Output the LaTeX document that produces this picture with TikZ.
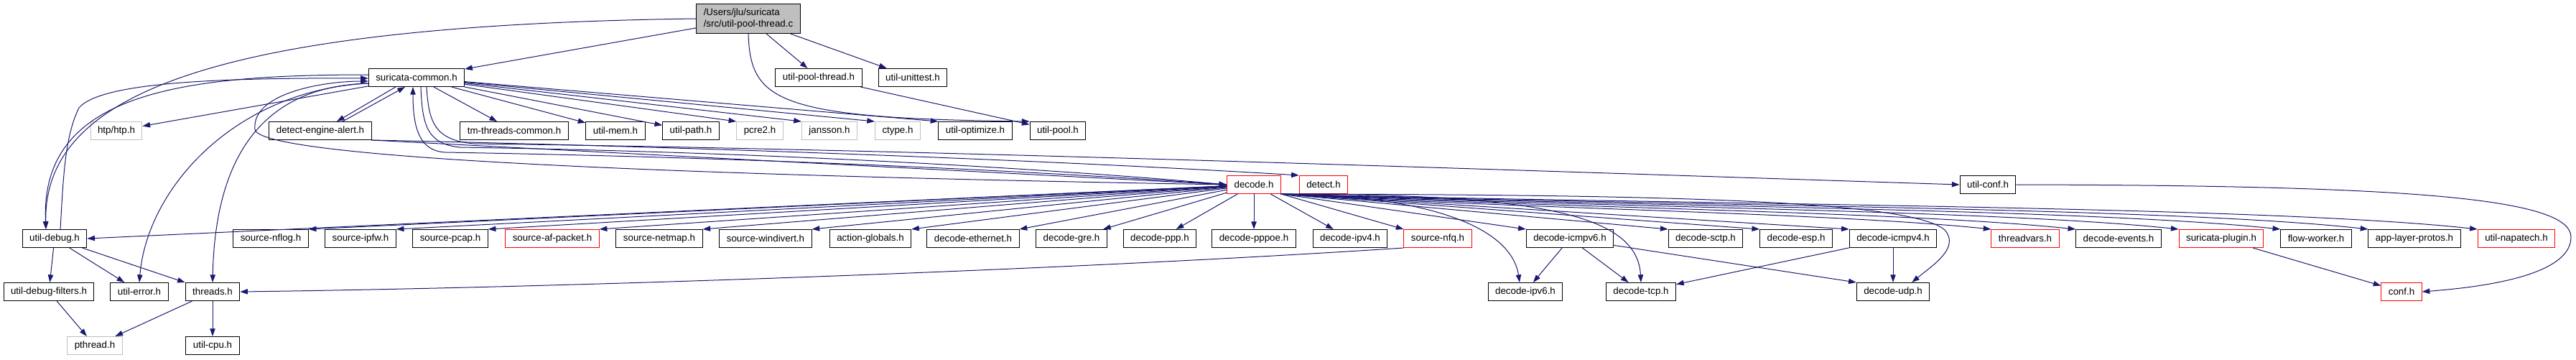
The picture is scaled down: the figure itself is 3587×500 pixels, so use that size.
\documentclass[tikz,border=0pt]{standalone}
\usepackage{fontspec}
\setmainfont{Liberation Sans}
\usetikzlibrary{arrows.meta,calc}
\definecolor{bleuEdge}{RGB}{25,25,112}
\definecolor{grisNode}{RGB}{191,191,191}
\definecolor{rougeNode}{RGB}{255,0,0}

\begin{document}
\begin{tikzpicture}[
		x=0.75pt, y=-0.75pt,
		hdr/.style={rectangle, draw=black, fill=white, line width=0.75pt,
			font=\fontsize{10}{12.5}\selectfont, inner xsep=7.5pt, inner ysep=0pt,
			minimum height=18.75pt},
		ext/.style={hdr, draw=grisNode},
		trunc/.style={hdr, draw=rougeNode},
		rootbox/.style={hdr, fill=grisNode, align=left, minimum height=30.75pt},
		inc/.style={->, >={Triangle[length=8pt, width=5.5pt]}, color=bleuEdge, line width=0.75pt}
		]
		\useasboundingbox (0,0) rectangle (3587,500);

		\node[rootbox] (root) at (1042,26) {/Users/jlu/suricata\\/src/util-pool-thread.c};

		\node[hdr] (suricom)  at (580,108)  {suricata-common.h};
		\node[hdr] (poolthr)  at (1140,108) {util-pool-thread.h};
		\node[hdr] (unittest) at (1271,108) {util-unittest.h};

		\node[ext] (htp)     at (162,182)  {htp/htp.h};
		\node[hdr] (dealert) at (446,182)  {detect-engine-alert.h};
		\node[hdr] (tmthr)   at (716,182)  {tm-threads-common.h};
		\node[hdr] (umem)    at (857,182)  {util-mem.h};
		\node[hdr] (upath)   at (962,182)  {util-path.h};
		\node[ext] (pcre)    at (1058,182) {pcre2.h};
		\node[ext] (jansson) at (1155,182) {jansson.h};
		\node[ext] (ctype)   at (1250,182) {ctype.h};
		\node[hdr] (uopt)    at (1358,182) {util-optimize.h};
		\node[hdr] (upool)   at (1473,182) {util-pool.h};

		\node[trunc] (decode) at (1746,257) {decode.h};
		\node[trunc] (detect) at (1843,257) {detect.h};
		\node[hdr]   (uconf)  at (2768,257) {util-conf.h};

		\node[hdr]   (udebug)    at (76,332)   {util-debug.h};
		\node[hdr]   (nflog)     at (377,332)  {source-nflog.h};
		\node[hdr]   (ipfw)      at (502,332)  {source-ipfw.h};
		\node[hdr]   (pcap)      at (627,332)  {source-pcap.h};
		\node[trunc] (afpacket)  at (769,332)  {source-af-packet.h};
		\node[hdr]   (netmap)    at (918,332)  {source-netmap.h};
		\node[hdr]   (windivert) at (1066,332) {source-windivert.h};
		\node[hdr]   (actglob)   at (1212,332) {action-globals.h};
		\node[hdr]   (deceth)    at (1355,332) {decode-ethernet.h};
		\node[hdr]   (decgre)    at (1492,332) {decode-gre.h};
		\node[hdr]   (decppp)    at (1615,332) {decode-ppp.h};
		\node[hdr]   (decpppoe)  at (1746,332) {decode-pppoe.h};
		\node[hdr]   (decipv4)   at (1880,332) {decode-ipv4.h};
		\node[trunc] (nfq)       at (2002,332) {source-nfq.h};
		\node[hdr]   (icmpv6)    at (2186,332) {decode-icmpv6.h};
		\node[hdr]   (sctp)      at (2375,332) {decode-sctp.h};
		\node[hdr]   (esp)       at (2501,332) {decode-esp.h};
		\node[hdr]   (icmpv4)    at (2636,332) {decode-icmpv4.h};
		\node[trunc] (thrvars)   at (2820,332) {threadvars.h};
		\node[hdr]   (events)    at (2950,332) {decode-events.h};
		\node[trunc] (plugin)    at (3093,332) {suricata-plugin.h};
		\node[hdr]   (flowwk)    at (3225,332) {flow-worker.h};
		\node[hdr]   (alprotos)  at (3362,332) {app-layer-protos.h};
		\node[trunc] (napatech)  at (3504,332) {util-napatech.h};

		\node[hdr]   (dbgfilt) at (68,406)   {util-debug-filters.h};
		\node[hdr]   (uerror)  at (194,406)  {util-error.h};
		\node[hdr]   (threads) at (296,406)  {threads.h};
		\node[hdr]   (ipv6)    at (2124,406) {decode-ipv6.h};
		\node[hdr]   (tcp)     at (2285,406) {decode-tcp.h};
		\node[hdr]   (udp)     at (2636,406) {decode-udp.h};
		\node[trunc] (conf)    at (3344,406) {conf.h};

		\node[ext] (pthread) at (132,481) {pthread.h};
		\node[hdr] (ucpu)    at (296,481) {util-cpu.h};

		% root file
		\draw[inc] (root) -- (suricom);
		\draw[inc] (root) -- (poolthr);
		\draw[inc] (root) -- (unittest);
		\draw[inc] (root.west) .. controls (300,35) and (60,130) .. ($(udebug.north)+(-12,0)$);
		\draw[inc] (root.south) .. controls (1045,140) and (1080,165) .. (upool.north west);
		\draw[inc] (poolthr) -- (upool);

		% suricata-common.h
		\draw[inc] (suricom) -- (htp);
		\draw[inc] ($(suricom.south)+(-29,0)$) -- ($(dealert.north)+(23,0)$);
		\draw[inc] ($(dealert.north)+(31,0)$) -- ($(suricom.south)+(-16,0)$);
		\draw[inc] (suricom) -- (tmthr);
		\draw[inc] (suricom) -- (umem);
		\draw[inc] (suricom) -- (upath);
		\draw[inc] (suricom) -- (pcre.north west);
		\draw[inc] (suricom) -- (jansson.north west);
		\draw[inc] (suricom) -- (ctype.north west);
		\draw[inc] (suricom) -- (uopt.north west);
		\draw[inc] ($(suricom.west)+(0,-4)$) .. controls (250,104) and (55,130) .. ($(udebug.north)+(-12,0)$);
		\draw[inc] ($(udebug.north)+(8,0)$) .. controls (88,250) and (90,190) .. (110,150)
			.. controls (140,115) and (300,108) .. ($(suricom.west)+(0,1)$);
		\draw[inc] ($(suricom.west)+(0,8)$) .. controls (330,125) and (205,260) .. (uerror.north);
		\draw[inc] ($(suricom.west)+(0,8)$) .. controls (380,120) and (300,200) .. (threads.north);
		\draw[inc] ($(suricom.south)+(6,0)$) .. controls (588,175) and (595,200) .. (640,205)
			.. controls (1100,212) and (1500,238) .. (decode.west);
		\draw[inc] (decode.west) .. controls (1500,242) and (1100,220) .. (620,212)
			.. controls (585,210) and (575,180) .. ($(suricom.south)+(-5,0)$);
		\draw[inc] (decode.west) .. controls (1000,245) and (360,222) .. (355,180)
			.. controls (350,130) and (450,113) .. ($(suricom.west)+(0,5)$);
		\draw[inc] ($(suricom.south)+(14,0)$) .. controls (597,170) and (605,195) .. (660,200)
			.. controls (1300,208) and (2200,240) .. (uconf.west);

		% detect-engine-alert.h
		\draw[inc] (dealert.south east) -- (decode.west);
		\draw[inc] (dealert.south east) .. controls (1000,205) and (1500,225) .. (detect.north west);

		% decode.h
		\draw[inc] (decode) -- (udebug.east);
		\draw[inc] (decode) -- (nflog.north east);
		\draw[inc] (decode) -- (ipfw.north east);
		\draw[inc] (decode) -- (pcap.north east);
		\draw[inc] (decode) -- (afpacket.north east);
		\draw[inc] (decode) -- (netmap.north east);
		\draw[inc] (decode) -- (windivert.north east);
		\draw[inc] (decode) -- (actglob.north east);
		\draw[inc] (decode) -- (deceth.north east);
		\draw[inc] (decode) -- (decgre);
		\draw[inc] (decode) -- (decppp);
		\draw[inc] (decode) -- (decpppoe);
		\draw[inc] (decode) -- (decipv4);
		\draw[inc] (decode.south east) -- (nfq.north west);
		\draw[inc] (decode.south east) -- (icmpv6.north west);
		\draw[inc] (decode.south east) -- (sctp.north west);
		\draw[inc] (decode.south east) -- (esp.north west);
		\draw[inc] (decode.south east) -- (icmpv4.north west);
		\draw[inc] (decode.south east) .. controls (2100,290) and (2550,296) .. (thrvars.north west);
		\draw[inc] (decode.south east) .. controls (2150,289) and (2650,294) .. (events.north west);
		\draw[inc] (decode.south east) .. controls (2200,288) and (2780,292) .. (plugin.north west);
		\draw[inc] (decode.south east) .. controls (2250,287) and (2900,290) .. (flowwk.north west);
		\draw[inc] (decode.south east) .. controls (2300,286) and (3020,288) .. (alprotos.north west);
		\draw[inc] (decode.south east) .. controls (2350,285) and (3150,286) .. (napatech.north west);
		\draw[inc] (decode.south east) .. controls (2000,272) and (2105,320) .. ($(ipv6.north)+(-8,0)$);
		\draw[inc] (decode.south east) .. controls (2150,270) and (2280,300) .. (tcp.north);
		\draw[inc] (decode.south east) .. controls (2300,271) and (2660,278) .. (2708,320)
			.. controls (2730,345) and (2690,370) .. ($(udp.north east)+(-25,0)$);

		% lower levels
		\draw[inc] (icmpv6) -- (ipv6);
		\draw[inc] (icmpv6) -- (tcp);
		\draw[inc] (icmpv6) -- (udp.north west);
		\draw[inc] (icmpv4) -- (tcp);
		\draw[inc] (icmpv4) -- (udp);
		\draw[inc] (plugin) -- (conf);
		\draw[inc] (uconf.east) .. controls (3350,258) and (3580,275) .. (3580,330)
			.. controls (3580,385) and (3450,400) .. (conf.east);
		\draw[inc] (nfq.south west) .. controls (1500,375) and (800,400) .. (threads.east);
		\draw[inc] (udebug) -- (dbgfilt);
		\draw[inc] (udebug) -- (uerror);
		\draw[inc] (udebug) -- (threads);
		\draw[inc] (dbgfilt) -- (pthread);
		\draw[inc] (threads) -- (pthread);
		\draw[inc] (threads) -- (ucpu);
\end{tikzpicture}
\end{document}
